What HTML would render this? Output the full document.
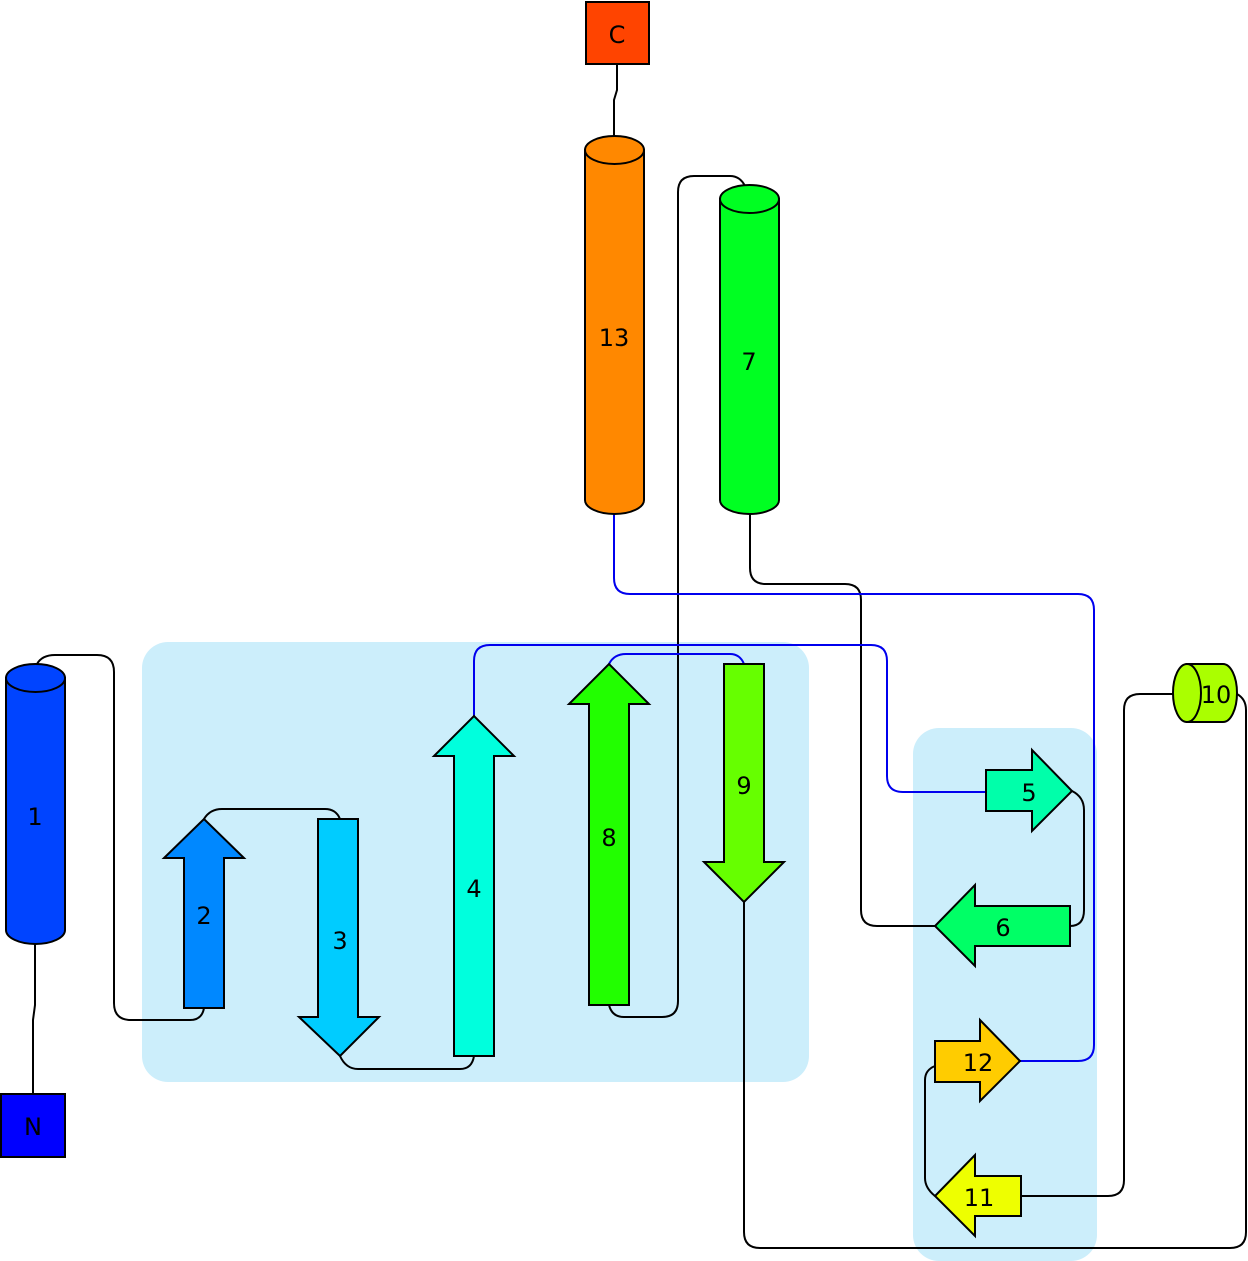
<!DOCTYPE html>
<html><head><meta charset="utf-8"><style>html,body{margin:0;padding:0;background:#fff}svg{display:block}</style></head>
<body>
<svg width="1248" height="1261" viewBox="0 0 1248 1261" xmlns="http://www.w3.org/2000/svg" font-family="'DejaVu Sans','Liberation Sans',sans-serif" font-size="24">
<rect x="142" y="642" width="667" height="440" rx="26" fill="#cceefb"/>
<rect x="913" y="728" width="184" height="533" rx="26" fill="#cceefb"/>
<g fill="none" stroke="#000" stroke-width="2">
<path d="M33,1094 V1020 L35,1005 V943"/>
<path d="M37,664 Q42,655 55,655 H97 Q114,655 114,672 V1003 Q114,1020 131,1020 H190 Q202,1020 204,1008"/>
<path d="M204,819 Q210,809 222,809 H325 Q336,809 340,819"/>
<path d="M340,1056 Q346,1069 358,1069 H460 Q472,1069 474,1056"/>
<path d="M1072,791 Q1084,797 1084,810 V910 Q1084,926 1070,926"/>
<path d="M935,926 H877 Q861,926 861,910 V600 Q861,584 845,584 H766 Q750,584 750,568 V514"/>
<path d="M745,186 Q740,176 730,176 H694 Q678,176 678,192 V1001 Q678,1017 662,1017 H624 Q612,1017 609,1005"/>
<path d="M744,902 V1232 Q744,1248 760,1248 H1230 Q1246,1248 1246,1232 V710 Q1246,699 1237,694"/>
<path d="M1173,694 H1140 Q1124,694 1124,710 V1180 Q1124,1196 1108,1196 H1021"/>
<path d="M935,1196 Q925,1188 925,1178 V1080 Q925,1070 935,1066"/>
<path d="M614,137 V100 L617,90 V64"/>
</g>
<g fill="none" stroke="#0000ee" stroke-width="2">
<path d="M474,716 V661 Q474,645 490,645 H871 Q887,645 887,661 V776 Q887,792 903,792 H986"/>
<path d="M609,664 Q614,654 626,654 H730 Q740,654 744,664"/>
<path d="M1020,1061 H1078 Q1094,1061 1094,1045 V610 Q1094,594 1078,594 H630 Q614,594 614,578 V514"/>
</g>
<g stroke="#000" stroke-width="2">
<rect x="1" y="1094" width="64" height="63" fill="#0000ff"/>
<rect x="586" y="2" width="63" height="62" fill="#ff4400"/>
<path d="M6,678 V930 A29.5,14 0 0 0 65,930 V678 Z" fill="#0044ff"/>
<ellipse cx="35.5" cy="678" rx="29.5" ry="14" fill="#0044ff"/>
<path d="M585,150 V500 A29.5,14 0 0 0 644,500 V150 Z" fill="#ff8800"/>
<ellipse cx="614.5" cy="150" rx="29.5" ry="14" fill="#ff8800"/>
<path d="M720,199 V500 A29.5,14 0 0 0 779,500 V199 Z" fill="#00ff22"/>
<ellipse cx="749.5" cy="199" rx="29.5" ry="14" fill="#00ff22"/>
<path d="M1187,664 H1223 A14,29 0 0 1 1223,722 H1187 Z" fill="#aaff00"/>
<ellipse cx="1187" cy="693" rx="14" ry="29" fill="#aaff00"/>
<polygon points="184,1008 184,858 164,858 204,819 244,858 224,858 224,1008" fill="#0088ff"/>
<polygon points="318,819 358,819 358,1017 379,1017 340,1056 299,1017 318,1017" fill="#00ccff"/>
<polygon points="454,1056 454,756 434,756 474,716 514,756 494,756 494,1056" fill="#00ffdd"/>
<polygon points="589,1005 589,704 569,704 609,664 649,704 629,704 629,1005" fill="#22ff00"/>
<polygon points="724,664 764,664 764,862 784,862 744,902 704,862 724,862" fill="#66ff00"/>
<polygon points="986,770 1032,770 1032,750 1072,791 1032,831 1032,811 986,811" fill="#00ffaa"/>
<polygon points="1070,906 975,906 975,885 935,926 975,966 975,946 1070,946" fill="#00ff66"/>
<polygon points="935,1041 980,1041 980,1020 1020,1061 980,1101 980,1082 935,1082" fill="#ffcc00"/>
<polygon points="1021,1176 975,1176 975,1155 935,1196 975,1236 975,1216 1021,1216" fill="#eeff00"/>
</g>
<g text-anchor="middle" fill="#000">
<text x="33" y="1135">N</text>
<text x="617" y="43">C</text>
<text x="35" y="825">1</text>
<text x="204" y="924">2</text>
<text x="340" y="949">3</text>
<text x="474" y="897">4</text>
<text x="1029" y="801">5</text>
<text x="1003" y="936">6</text>
<text x="749" y="370">7</text>
<text x="609" y="846">8</text>
<text x="744" y="794">9</text>
<text x="1216" y="703">10</text>
<text x="979" y="1206">11</text>
<text x="978" y="1071">12</text>
<text x="614" y="346">13</text>
</g>
</svg>
</body></html>
